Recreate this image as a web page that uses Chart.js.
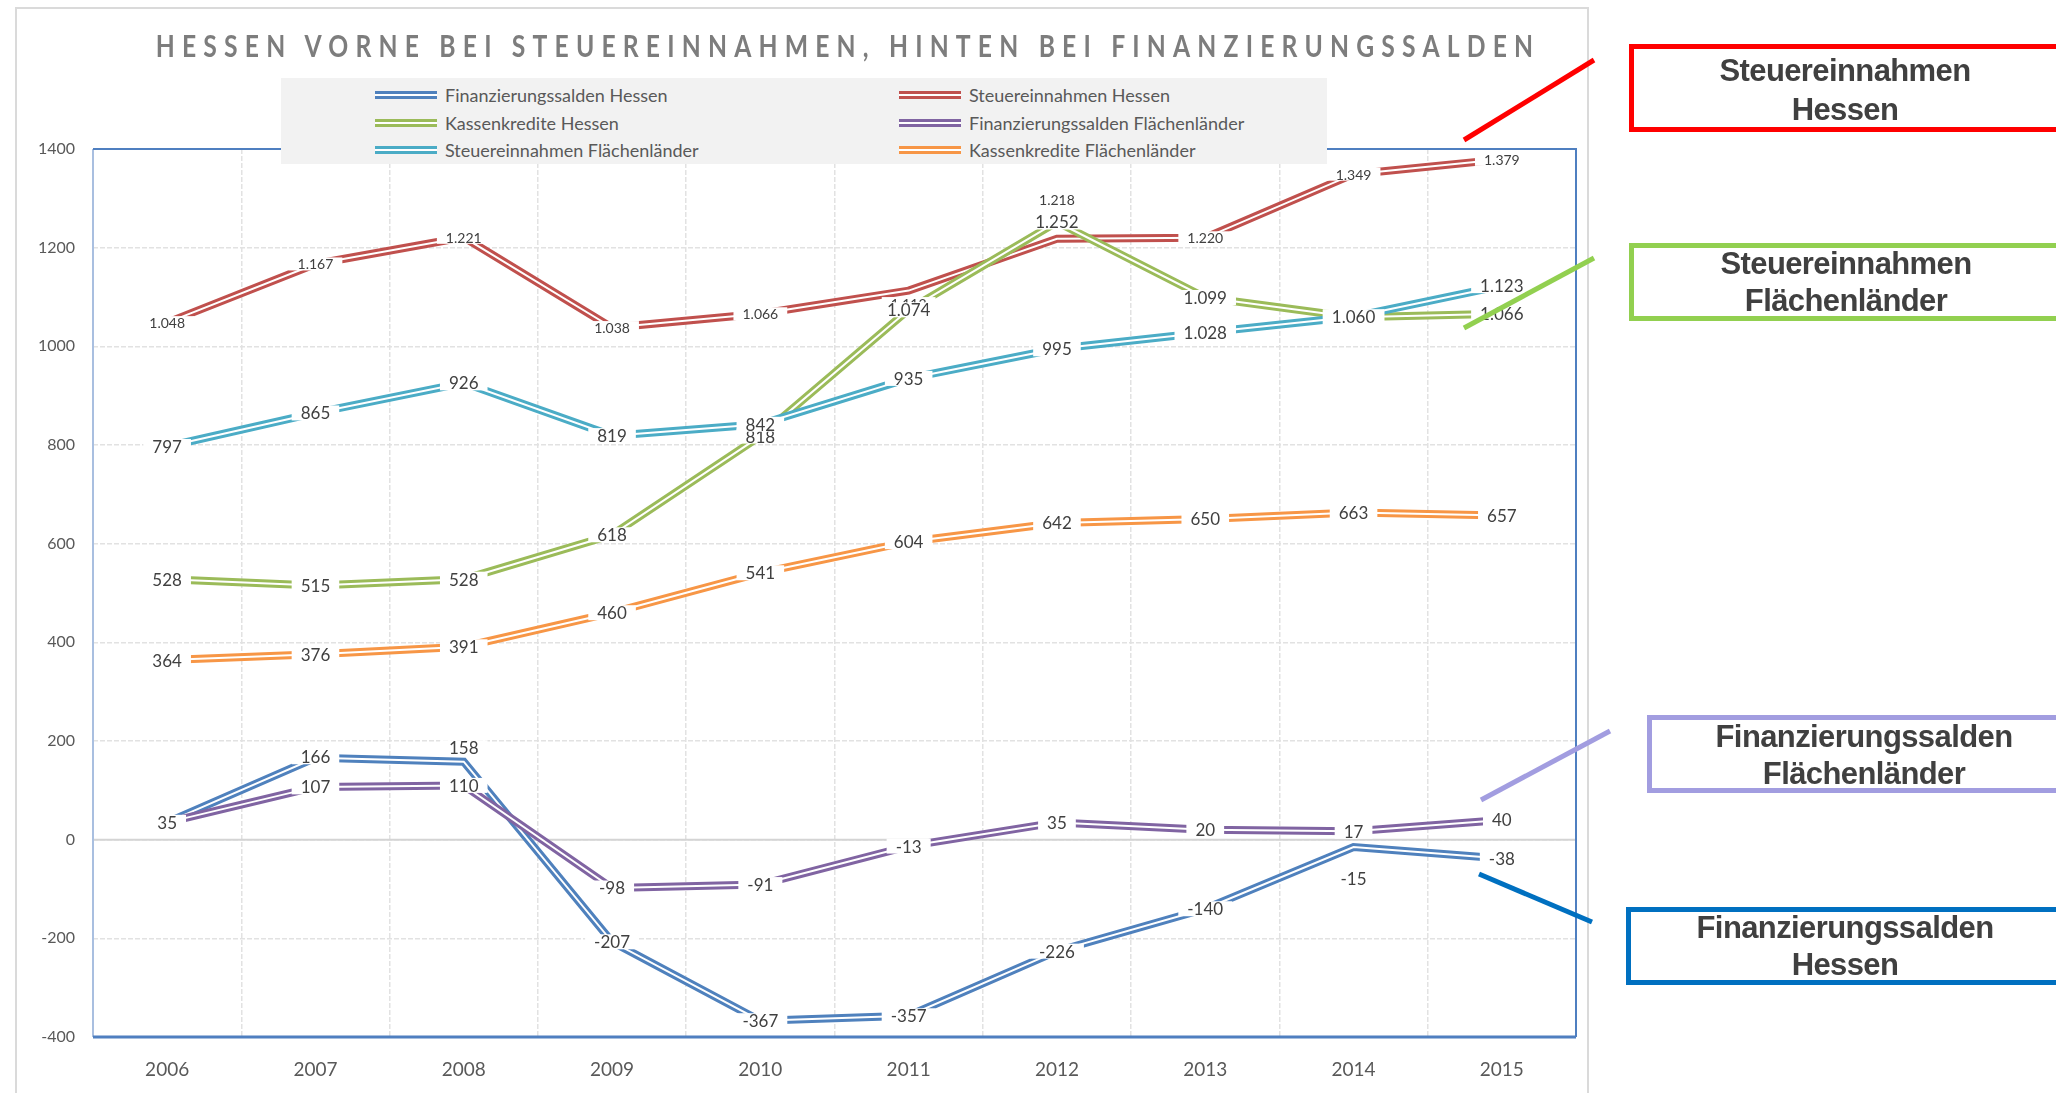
<!DOCTYPE html>
<html>
<head>
<meta charset="utf-8">
<script src="https://cdn.jsdelivr.net/npm/chart.js@4.4.1/dist/chart.umd.min.js"></script>
<style>
  body { margin: 0; width: 2056px; height: 1093px; overflow: hidden; background: #fff; position: relative; font-family: Lato, sans-serif; }
  #frame { position: absolute; left: 15px; top: 7px; width: 1574px; height: 1100px; border: 2px solid #dadada; box-sizing: border-box; }
  #myChart { position: absolute; left: 0; top: 0; }
  #title { position: absolute; left: 848px; top: 26px; white-space: nowrap;
           font: bold 31px Lato, sans-serif; color: #7d7d7d; letter-spacing: 9px;
           transform: translateX(-50%) scaleX(0.797); }
  #legend { position: absolute; left: 281px; top: 78px; width: 1046px; height: 86px; background: #f2f2f2; }
  .item { position: absolute; height: 24px; line-height: 24px; font-size: 18px; color: #595959; white-space: nowrap; }
  .swatch { position: absolute; left: 0; top: 8px; width: 62px; height: 2px; background: #fff; border-top: 3px solid; border-bottom: 3px solid; }
  .item span { position: absolute; left: 70px; top: 0; }
  .note { position: absolute; box-sizing: border-box; border: 5px solid; text-align: center;
          font: bold 31px "Liberation Sans", Arial, sans-serif; letter-spacing: -0.6px; color: #404040; line-height: 37px; }
  .note div { position: relative; }
  #links { position: absolute; left: 0; top: 0; }
</style>
</head>
<body>
<div id="frame"></div>
<canvas id="myChart" width="2056" height="1093"></canvas>
<div id="title">HESSEN VORNE BEI STEUEREINNAHMEN, HINTEN BEI FINANZIERUNGSSALDEN</div>
<div id="legend"></div>

<svg id="links" width="2056" height="1093">
  <line x1="1464" y1="140" x2="1594" y2="60" stroke="#ff0000" stroke-width="5"/>
  <line x1="1464" y1="328" x2="1594" y2="258" stroke="#92d050" stroke-width="5"/>
  <line x1="1481" y1="800" x2="1610" y2="731" stroke="#a29de0" stroke-width="5"/>
  <line x1="1479" y1="874" x2="1592" y2="922" stroke="#0070c0" stroke-width="5"/>
</svg>
<div class="note" style="left:1629px; top:44px; width:432px; height:88px; border-color:#ff0000;"><div style="top:2px; line-height:39px;">Steuereinnahmen<br>Hessen</div></div>
<div class="note" style="left:1629px; top:243px; width:434px; height:78px; border-color:#92d050;"><div style="top:-3px;">Steuereinnahmen<br>Flächenländer</div></div>
<div class="note" style="left:1647px; top:715px; width:434px; height:78px; border-color:#a29de0;"><div style="top:-2px;">Finanzierungssalden<br>Flächenländer</div></div>
<div class="note" style="left:1626px; top:907px; width:438px; height:78px; border-color:#0070c0;"><div style="top:-3px;">Finanzierungssalden<br>Hessen</div></div>

<script>
var years = ['2006', '2007', '2008', '2009', '2010', '2011', '2012', '2013', '2014', '2015'];

var finSaldenHessen = [35, 166, 158, -207, -367, -357, -226, -140, -15, -38];
var steuerHessen = [1048, 1167, 1221, 1038, 1066, 1113, 1218, 1220, 1349, 1379];
var kassenHessen = [528, 515, 528, 618, 818, 1074, 1252, 1099, 1059, 1066];
var finSaldenFL = [35, 107, 110, -98, -91, -13, 35, 20, 17, 40];
var steuerFL = [797, 865, 926, 819, 842, 935, 995, 1028, 1060, 1123];
var kassenFL = [364, 376, 391, 460, 541, 604, 642, 650, 663, 657];

var yMin = -400, yMax = 1400, yStep = 200;

// series in Excel order (later ones drawn on top)
var series = [
    { name: 'Finanzierungssalden Hessen', data: finSaldenHessen, color: '#4f81bd', size: 17 },
    { name: 'Steuereinnahmen Hessen', data: steuerHessen, color: '#c0504d', size: 14 },
    { name: 'Kassenkredite Hessen', data: kassenHessen, color: '#9bbb59', size: 17 },
    { name: 'Finanzierungssalden Flächenländer', data: finSaldenFL, color: '#8064a2', size: 17 },
    { name: 'Steuereinnahmen Flächenländer', data: steuerFL, color: '#4bacc6', size: 17 },
    { name: 'Kassenkredite Flächenländer', data: kassenFL, color: '#f79646', size: 17 },
];

// labels moved off their point in the original (series:index -> px)
var labelNudge = { '0:1': -1, '0:2': -14, '0:8': 31, '1:5': 13, '1:6': -39 };

// legend, two columns
var legend = document.getElementById('legend');
series.forEach(function (s, k) {
    var col = k % 2, row = Math.floor(k / 2);
    var el = document.createElement('div');
    el.className = 'item';
    el.style.left = (col ? 618 : 94) + 'px';
    el.style.top = (5 + row * 27.5) + 'px';
    el.innerHTML = '<div class="swatch" style="border-color:' + s.color + '"></div><span>' + s.name + '</span>';
    legend.appendChild(el);
});

function fmt(v) {
    if (Math.abs(v) >= 1000) {
        var t = Math.abs(v) % 1000;
        return (v < 0 ? '-' : '') + Math.floor(Math.abs(v) / 1000) + '.' + String(t).padStart(3, '0');
    }
    return String(v);
}

var datasets = [];
series.forEach(function (s, k) {
    datasets.push({
        label: s.name, data: s.data, borderColor: s.color, borderWidth: 8,
        pointRadius: 0, tension: 0, fill: false, order: (5 - k) * 2 + 1
    });
    datasets.push({
        label: s.name + ' inner', data: s.data, borderColor: '#ffffff', borderWidth: 2,
        pointRadius: 0, tension: 0, fill: false, order: (5 - k) * 2
    });
});

const plotFrame = {
    id: 'plotFrame',
    beforeDatasetsDraw(chart) {
        const ctx = chart.ctx, a = chart.chartArea, y = chart.scales.y;
        ctx.save();
        // zero line
        ctx.strokeStyle = '#d4d4d4';
        ctx.lineWidth = 2;
        ctx.beginPath();
        ctx.moveTo(a.left, y.getPixelForValue(0));
        ctx.lineTo(a.right, y.getPixelForValue(0));
        ctx.stroke();
        // border of the plot area
        ctx.strokeStyle = '#a9bfe0';
        ctx.lineWidth = 2;
        ctx.beginPath();
        ctx.moveTo(a.left, a.top);
        ctx.lineTo(a.left, a.bottom);
        ctx.stroke();
        ctx.strokeStyle = '#4f7fc0';
        ctx.beginPath();
        ctx.moveTo(a.left, a.top);
        ctx.lineTo(a.right, a.top);
        ctx.lineTo(a.right, a.bottom);
        ctx.stroke();
        ctx.lineWidth = 3;
        ctx.beginPath();
        ctx.moveTo(a.left, a.bottom);
        ctx.lineTo(a.right, a.bottom);
        ctx.stroke();
        ctx.restore();
    }
};

const valueLabels = {
    id: 'valueLabels',
    afterDatasetsDraw(chart) {
        const ctx = chart.ctx;
        ctx.save();
        ctx.textAlign = 'center';
        ctx.textBaseline = 'middle';
        series.forEach(function (s, k) {
            const meta = chart.getDatasetMeta(k * 2);
            ctx.font = s.size + 'px Lato';
            meta.data.forEach(function (pt, i) {
                const txt = fmt(s.data[i]);
                const y = pt.y + (labelNudge[k + ':' + i] || 0);
                const w = ctx.measureText(txt).width;
                const h = Math.round(s.size * 0.9);
                ctx.fillStyle = '#ffffff';
                ctx.fillRect(pt.x - w / 2 - 9, y - h / 2, w + 18, h);
                ctx.fillStyle = '#404040';
                ctx.fillText(txt, pt.x, y + 1);
            });
        });
        ctx.restore();
    }
};

const config = {
    type: 'line',
    data: { labels: years, datasets: datasets },
    options: {
        responsive: false,
        animation: false,
        layout: { padding: { left: 0, right: 480, top: 149, bottom: 0 } },
        plugins: { legend: { display: false }, title: { display: false }, tooltip: { enabled: false } },
        scales: {
            x: {
                offset: true,
                grid: { offset: true, color: '#e2e2e2', lineWidth: 1.5, drawTicks: false },
                border: { display: false, dash: [5, 2] },
                ticks: { color: '#595959', font: { family: 'Lato', size: 19 }, padding: 21 },
                afterFit: function (s) { s.height = 56; }
            },
            y: {
                min: yMin,
                max: yMax,
                grid: { color: '#e2e2e2', lineWidth: 1.5, drawTicks: false },
                border: { display: false, dash: [5, 2] },
                ticks: {
                    stepSize: yStep, color: '#595959', font: { family: 'Lato', size: 16 }, padding: 18,
                    callback: function (v) { return String(v); }
                },
                afterFit: function (s) { s.width = 93; }
            }
        }
    },
    plugins: [plotFrame, valueLabels]
};

const myChart = new Chart(document.getElementById('myChart'), config);
</script>
</body>
</html>
